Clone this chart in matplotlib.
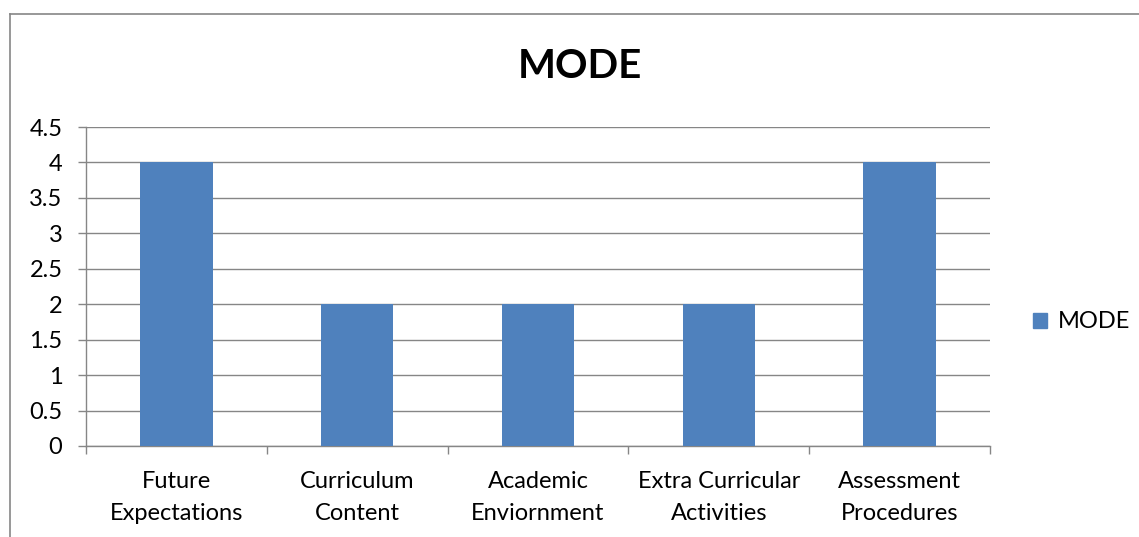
import matplotlib.pyplot as plt
from matplotlib.lines import Line2D
from matplotlib.patches import Patch

# Data
categories = ["Future\nExpectations", "Curriculum\nContent", "Academic\nEnviornment",
              "Extra Curricular\nActivities", "Assessment\nProcedures"]
mode_values = [4, 2, 2, 2, 4]
y_ticks = [0, 0.5, 1, 1.5, 2, 2.5, 3, 3.5, 4, 4.5]
y_labels = ["0", "0.5", "1", "1.5", "2", "2.5", "3", "3.5", "4", "4.5"]

BAR_COLOR = "#4F81BD"
GRID_COLOR = "#868686"

plt.rcParams['font.family'] = ['Lato', 'DejaVu Sans']

W, H = 1139, 537
fig = plt.figure(figsize=(W / 100, H / 100), dpi=100)
ax = fig.add_axes([86 / W, 1 - 446 / H, (990 - 86) / W, (446 - 127) / H])

x = list(range(len(categories)))
ax.bar(x, mode_values, width=0.4, color=BAR_COLOR, zorder=3, label="MODE")

ax.set_xlim(-0.5, len(categories) - 0.5)
ax.set_ylim(0, 4.5)
ax.set_yticks(y_ticks)
ax.set_yticklabels(y_labels, fontsize=17)
ax.set_xticks(x)
ax.set_xticklabels(categories, fontsize=17, linespacing=1.65)
ax.set_xticks([i - 0.5 for i in range(len(categories) + 1)], minor=True)
ax.tick_params(axis='x', which='major', length=0, pad=18)
ax.tick_params(axis='x', which='minor', length=6, color=GRID_COLOR, width=1)
ax.tick_params(axis='y', length=6, color=GRID_COLOR, width=1, pad=11)

ax.yaxis.grid(True, color=GRID_COLOR, linewidth=1, zorder=0)
ax.set_axisbelow(True)
for side in ["top", "right"]:
    ax.spines[side].set_visible(False)
for side in ["left", "bottom"]:
    ax.spines[side].set_color(GRID_COLOR)
    ax.spines[side].set_linewidth(1)

fig.text(580 / W, 1 - 67 / H, "MODE", fontsize=29, fontweight="bold",
         ha="center", va="center")

fig.legend(handles=[Patch(color=BAR_COLOR, label="MODE")], loc="center left",
           bbox_to_anchor=(1012 / W, 1 - 322 / H), frameon=False, fontsize=17,
           handlelength=0.6, handleheight=0.6, handletextpad=0.45)

# outer chart border (only left and top visible in the crop)
fig.add_artist(Line2D([10 / W, 10 / W], [0, 1 - 14 / H], color=GRID_COLOR, lw=1.2,
                      transform=fig.transFigure))
fig.add_artist(Line2D([10 / W, 1], [1 - 14 / H, 1 - 14 / H], color=GRID_COLOR, lw=1.2,
                      transform=fig.transFigure))

fig.savefig("out.png", dpi=100)
plt.close(fig)
